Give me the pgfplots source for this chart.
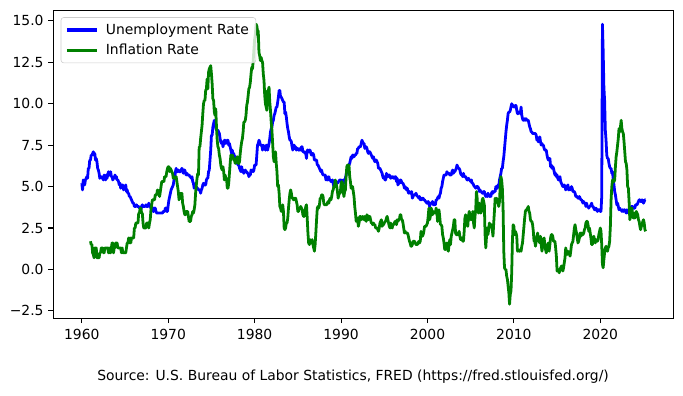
\documentclass[border=0pt]{standalone}
\usepackage{pgfplots}
\pgfplotsset{compat=1.18}
\usepackage{fontspec}
\setmainfont{DejaVu Sans}
\definecolor{mplgreen}{RGB}{0,128,0}
\definecolor{mplblue}{RGB}{0,0,255}
\begin{document}
\begin{tikzpicture}
\path[use as bounding box] (0pt,0pt) rectangle (491.76pt,284.4pt);
\begin{axis}[
  at={(38.38pt,55.22pt)}, anchor=south west,
  width=446.7pt, height=221.9pt, scale only axis,
  xmin=1956.7, xmax=2028.5, ymin=-2.95, ymax=15.65,
  xtick={1960,1970,1980,1990,2000,2010,2020},
  xticklabels={1960,1970,1980,1990,2000,2010,2020},
  ytick={-2.5,0,2.5,5,7.5,10,12.5,15},
  yticklabels={−2.5,0.0,2.5,5.0,7.5,10.0,12.5,15.0},
  tick align=outside, tick pos=left, major tick length=3.5pt,
  tick style={black, line width=0.8pt},
  axis line style={line width=0.8pt},
  ticklabel style={font=\fontsize{10}{12}\selectfont},
  xticklabel style={yshift=-1pt},
  legend cell align=left,
  legend image code/.code={\draw[#1,line width=2.3pt] (0pt,0pt) -- (22pt,0pt);},
  legend style={at={(0.012,0.977)}, anchor=north west, draw=black!20, rounded corners=2pt,
    fill=white, fill opacity=0.8, text opacity=1, font=\fontsize{10}{12}\selectfont,
    inner xsep=3pt, inner ysep=2.5pt, row sep=1.5pt, column sep=3pt},
]
\addplot[mplblue, line width=2pt, line join=round] table[row sep=\\, header=false, x expr=1960+\coordindex/12, y index=0] {
5.2\\4.8\\5.4\\5.2\\5.1\\5.4\\5.5\\5.6\\5.5\\6.1\\6.1\\6.6\\
6.6\\6.9\\6.9\\7.0\\7.1\\6.9\\7.0\\6.6\\6.7\\6.5\\6.1\\6.0\\
5.8\\5.5\\5.6\\5.6\\5.5\\5.5\\5.4\\5.7\\5.6\\5.4\\5.7\\5.5\\
5.7\\5.9\\5.7\\5.7\\5.9\\5.6\\5.6\\5.4\\5.5\\5.5\\5.7\\5.5\\
5.6\\5.4\\5.4\\5.3\\5.1\\5.2\\4.9\\5.0\\5.1\\5.1\\4.8\\5.0\\
4.9\\5.1\\4.7\\4.8\\4.6\\4.6\\4.4\\4.4\\4.3\\4.2\\4.1\\4.0\\
4.0\\3.8\\3.8\\3.8\\3.9\\3.8\\3.8\\3.8\\3.7\\3.7\\3.6\\3.8\\
3.9\\3.8\\3.8\\3.8\\3.8\\3.9\\3.8\\3.8\\3.8\\4.0\\3.9\\3.8\\
3.7\\3.8\\3.7\\3.5\\3.5\\3.7\\3.7\\3.5\\3.4\\3.4\\3.4\\3.4\\
3.4\\3.4\\3.4\\3.4\\3.4\\3.5\\3.5\\3.5\\3.7\\3.7\\3.5\\3.5\\
3.9\\4.2\\4.4\\4.6\\4.8\\4.9\\5.0\\5.1\\5.4\\5.5\\5.9\\6.1\\
5.9\\5.9\\6.0\\5.9\\5.9\\5.9\\6.0\\6.1\\6.0\\5.8\\6.0\\6.0\\
5.8\\5.7\\5.8\\5.7\\5.7\\5.7\\5.6\\5.6\\5.5\\5.6\\5.3\\5.2\\
4.9\\5.0\\4.9\\5.0\\4.9\\4.9\\4.8\\4.8\\4.8\\4.6\\4.8\\4.9\\
5.1\\5.2\\5.1\\5.1\\5.1\\5.4\\5.5\\5.5\\5.9\\6.0\\6.6\\7.2\\
8.1\\8.1\\8.6\\8.8\\9.0\\8.8\\8.6\\8.4\\8.4\\8.4\\8.3\\8.2\\
7.9\\7.7\\7.6\\7.7\\7.4\\7.6\\7.8\\7.8\\7.6\\7.7\\7.8\\7.8\\
7.5\\7.6\\7.4\\7.2\\7.0\\7.2\\6.9\\7.0\\6.8\\6.8\\6.8\\6.4\\
6.4\\6.3\\6.3\\6.1\\6.0\\5.9\\6.2\\5.9\\6.0\\5.8\\5.9\\6.0\\
5.9\\5.9\\5.8\\5.8\\5.6\\5.7\\5.7\\6.0\\5.9\\6.0\\5.9\\6.0\\
6.3\\6.3\\6.3\\6.9\\7.5\\7.6\\7.8\\7.7\\7.5\\7.5\\7.5\\7.2\\
7.5\\7.4\\7.4\\7.2\\7.5\\7.5\\7.2\\7.4\\7.6\\7.9\\8.3\\8.5\\
8.6\\8.9\\9.0\\9.3\\9.4\\9.6\\9.8\\9.8\\10.1\\10.4\\10.8\\10.8\\
10.4\\10.4\\10.3\\10.2\\10.1\\10.1\\9.4\\9.5\\9.2\\8.8\\8.5\\8.3\\
8.0\\7.8\\7.8\\7.7\\7.4\\7.2\\7.5\\7.5\\7.3\\7.4\\7.2\\7.3\\
7.3\\7.2\\7.2\\7.3\\7.2\\7.4\\7.4\\7.1\\7.1\\7.1\\7.0\\7.0\\
6.7\\7.2\\7.2\\7.1\\7.2\\7.2\\7.0\\6.9\\7.0\\7.0\\6.9\\6.6\\
6.6\\6.6\\6.6\\6.3\\6.3\\6.2\\6.1\\6.0\\5.9\\6.0\\5.8\\5.7\\
5.7\\5.7\\5.7\\5.4\\5.6\\5.4\\5.4\\5.6\\5.4\\5.4\\5.3\\5.3\\
5.4\\5.2\\5.0\\5.2\\5.2\\5.3\\5.2\\5.2\\5.3\\5.3\\5.4\\5.4\\
5.4\\5.3\\5.2\\5.4\\5.4\\5.2\\5.5\\5.7\\5.9\\5.9\\6.2\\6.3\\
6.4\\6.6\\6.8\\6.7\\6.9\\6.9\\6.8\\6.9\\6.9\\7.0\\7.0\\7.3\\
7.3\\7.4\\7.4\\7.4\\7.6\\7.8\\7.7\\7.6\\7.6\\7.3\\7.4\\7.4\\
7.3\\7.1\\7.0\\7.1\\7.1\\7.0\\6.9\\6.8\\6.7\\6.8\\6.6\\6.5\\
6.6\\6.6\\6.5\\6.4\\6.1\\6.1\\6.1\\6.0\\5.9\\5.8\\5.6\\5.5\\
5.6\\5.4\\5.4\\5.8\\5.6\\5.6\\5.7\\5.7\\5.6\\5.5\\5.6\\5.6\\
5.6\\5.5\\5.5\\5.6\\5.6\\5.3\\5.5\\5.1\\5.2\\5.2\\5.4\\5.4\\
5.3\\5.2\\5.2\\5.1\\4.9\\5.0\\4.9\\4.8\\4.9\\4.7\\4.6\\4.7\\
4.6\\4.6\\4.7\\4.3\\4.4\\4.5\\4.5\\4.5\\4.6\\4.5\\4.4\\4.4\\
4.3\\4.4\\4.2\\4.3\\4.2\\4.3\\4.3\\4.2\\4.2\\4.1\\4.1\\4.0\\
4.0\\4.1\\4.0\\3.8\\4.0\\4.0\\4.0\\4.1\\3.9\\3.9\\3.9\\3.9\\
4.2\\4.2\\4.3\\4.4\\4.3\\4.5\\4.6\\4.9\\5.0\\5.3\\5.5\\5.7\\
5.7\\5.7\\5.7\\5.9\\5.8\\5.8\\5.8\\5.7\\5.7\\5.7\\5.9\\6.0\\
5.8\\5.9\\5.9\\6.0\\6.1\\6.3\\6.2\\6.1\\6.1\\6.0\\5.8\\5.7\\
5.7\\5.6\\5.8\\5.6\\5.6\\5.6\\5.5\\5.4\\5.4\\5.5\\5.4\\5.4\\
5.3\\5.4\\5.2\\5.2\\5.1\\5.0\\5.0\\4.9\\5.0\\5.0\\5.0\\4.9\\
4.7\\4.8\\4.7\\4.7\\4.6\\4.6\\4.7\\4.7\\4.5\\4.4\\4.5\\4.4\\
4.6\\4.5\\4.4\\4.5\\4.4\\4.6\\4.7\\4.6\\4.7\\4.7\\4.7\\5.0\\
5.0\\4.9\\5.1\\5.0\\5.4\\5.6\\5.8\\6.1\\6.1\\6.5\\6.8\\7.3\\
7.8\\8.3\\8.7\\9.0\\9.4\\9.5\\9.5\\9.6\\9.8\\10.0\\9.9\\9.9\\
9.8\\9.8\\9.9\\9.9\\9.6\\9.4\\9.4\\9.5\\9.5\\9.4\\9.8\\9.3\\
9.1\\9.0\\9.0\\9.1\\9.0\\9.1\\9.0\\9.0\\9.0\\8.8\\8.6\\8.5\\
8.3\\8.3\\8.2\\8.2\\8.2\\8.2\\8.2\\8.1\\7.8\\7.8\\7.7\\7.9\\
8.0\\7.7\\7.5\\7.6\\7.5\\7.5\\7.3\\7.2\\7.2\\7.2\\6.9\\6.7\\
6.6\\6.7\\6.7\\6.2\\6.3\\6.1\\6.2\\6.1\\5.9\\5.7\\5.8\\5.6\\
5.7\\5.5\\5.4\\5.4\\5.6\\5.3\\5.2\\5.1\\5.0\\5.0\\5.1\\5.0\\
4.8\\4.9\\5.0\\5.1\\4.8\\4.9\\4.8\\4.9\\5.0\\4.9\\4.7\\4.7\\
4.7\\4.6\\4.4\\4.4\\4.4\\4.3\\4.3\\4.4\\4.3\\4.2\\4.2\\4.1\\
4.0\\4.1\\4.0\\4.0\\3.8\\4.0\\3.8\\3.8\\3.7\\3.8\\3.8\\3.9\\
4.0\\3.8\\3.8\\3.7\\3.6\\3.6\\3.7\\3.6\\3.5\\3.6\\3.6\\3.6\\
3.5\\3.5\\4.4\\14.8\\13.2\\11.0\\10.2\\8.4\\7.8\\6.9\\6.7\\6.7\\
6.4\\6.2\\6.1\\6.1\\5.8\\5.9\\5.4\\5.1\\4.7\\4.5\\4.2\\3.9\\
4.0\\3.8\\3.6\\3.7\\3.6\\3.6\\3.5\\3.6\\3.5\\3.6\\3.6\\3.5\\
3.4\\3.6\\3.5\\3.4\\3.6\\3.6\\3.5\\3.8\\3.8\\3.8\\3.7\\3.7\\
3.7\\3.9\\3.9\\3.9\\4.0\\4.1\\4.2\\4.2\\4.1\\4.1\\4.2\\4.1\\
4.0\\4.1\\4.2\\4.2\\
};
\addlegendentry{Unemployment Rate}
\addplot[mplgreen, line width=2pt, line join=round] table[row sep=\\, header=false, x expr=1961+\coordindex/12, y index=0] {
1.7\\1.5\\1.5\\1.0\\0.9\\0.7\\1.3\\1.3\\1.3\\0.7\\0.7\\0.7\\
0.7\\1.0\\1.0\\1.3\\1.3\\1.3\\1.0\\1.0\\1.3\\1.3\\1.3\\1.3\\
1.3\\1.0\\1.3\\1.0\\1.0\\1.3\\1.6\\1.6\\1.0\\1.3\\1.3\\1.6\\
1.6\\1.6\\1.3\\1.3\\1.3\\1.3\\1.3\\1.0\\1.3\\1.0\\1.0\\1.0\\
1.0\\1.0\\1.3\\1.6\\1.6\\1.9\\1.6\\1.9\\1.6\\1.9\\1.9\\1.9\\
1.9\\2.5\\2.5\\2.8\\2.8\\2.8\\2.8\\3.4\\3.4\\3.7\\3.7\\3.4\\
3.4\\2.8\\2.5\\2.5\\2.5\\2.5\\2.8\\2.8\\2.8\\2.5\\2.8\\3.0\\
3.6\\3.9\\4.2\\4.2\\4.2\\4.2\\4.5\\4.5\\4.5\\4.8\\4.7\\4.7\\
4.4\\4.7\\5.0\\5.3\\5.3\\5.3\\5.3\\5.6\\5.6\\5.6\\5.9\\6.1\\
6.2\\6.2\\5.9\\6.1\\6.0\\5.9\\5.8\\5.5\\5.6\\5.5\\5.5\\5.6\\
5.3\\5.0\\4.7\\4.2\\4.4\\4.6\\4.4\\4.6\\4.0\\3.8\\3.5\\3.3\\
3.3\\3.5\\3.5\\3.5\\3.2\\2.9\\2.9\\2.9\\3.2\\3.3\\3.5\\3.4\\
3.6\\3.9\\4.6\\5.1\\5.5\\5.8\\5.7\\7.4\\7.4\\7.9\\8.3\\8.7\\
9.4\\10.0\\10.2\\10.2\\10.8\\10.9\\11.5\\10.9\\11.9\\12.1\\12.2\\12.3\\
11.8\\11.2\\10.3\\10.2\\9.5\\9.3\\9.7\\8.6\\7.8\\7.4\\7.3\\6.9\\
6.7\\6.3\\6.1\\6.0\\6.2\\5.9\\5.4\\5.7\\5.5\\5.5\\4.9\\4.9\\
5.2\\5.8\\6.4\\6.9\\6.7\\6.9\\6.8\\6.6\\6.6\\6.4\\6.7\\6.7\\
6.8\\6.4\\6.4\\6.5\\7.0\\7.4\\7.7\\7.9\\8.3\\8.9\\8.9\\9.0\\
9.3\\9.9\\10.1\\10.5\\10.9\\11.0\\11.3\\11.8\\12.2\\12.1\\12.6\\13.3\\
13.9\\14.2\\14.8\\14.7\\14.4\\14.4\\13.1\\12.9\\12.6\\12.8\\12.6\\12.5\\
11.8\\11.4\\10.5\\10.0\\9.8\\9.6\\10.8\\10.8\\11.0\\10.1\\9.6\\8.9\\
8.4\\7.6\\6.8\\6.5\\6.7\\7.1\\6.4\\5.9\\5.0\\5.1\\4.6\\3.8\\
3.7\\3.5\\3.6\\3.9\\3.5\\2.5\\2.4\\2.5\\2.8\\2.8\\3.1\\3.7\\
4.2\\4.6\\4.8\\4.6\\4.3\\4.3\\4.2\\4.3\\4.2\\4.3\\4.1\\3.9\\
3.5\\3.5\\3.7\\3.7\\3.8\\3.7\\3.6\\3.3\\3.2\\3.2\\3.5\\3.8\\
3.9\\3.1\\2.2\\1.6\\1.5\\1.8\\1.6\\1.6\\1.8\\1.5\\1.3\\1.1\\
1.5\\2.2\\3.0\\3.7\\3.8\\3.7\\3.9\\4.3\\4.3\\4.5\\4.5\\4.4\\
4.0\\3.9\\3.9\\3.9\\3.9\\4.0\\4.1\\4.0\\4.2\\4.3\\4.2\\4.4\\
4.7\\4.8\\5.0\\5.1\\5.4\\5.2\\5.0\\4.7\\4.3\\4.5\\4.6\\4.6\\
5.2\\5.3\\5.2\\4.7\\4.4\\4.7\\4.8\\5.6\\6.2\\6.3\\6.3\\6.3\\
5.6\\5.3\\4.9\\4.9\\5.0\\4.7\\4.4\\3.8\\3.4\\2.9\\3.0\\3.1\\
2.6\\2.8\\3.2\\3.2\\3.0\\3.1\\3.2\\3.1\\3.0\\3.2\\3.0\\2.9\\
3.3\\3.2\\3.0\\3.2\\3.2\\3.0\\2.8\\2.8\\2.7\\2.8\\2.7\\2.7\\
2.5\\2.5\\2.5\\2.4\\2.3\\2.5\\2.8\\2.9\\3.0\\2.6\\2.7\\2.7\\
2.8\\2.9\\2.9\\3.1\\3.2\\3.0\\2.8\\2.6\\2.5\\2.8\\2.6\\2.5\\
2.7\\2.7\\2.8\\2.9\\2.9\\2.7\\3.0\\2.9\\3.0\\3.0\\3.3\\3.3\\
3.0\\3.0\\2.8\\2.5\\2.2\\2.3\\2.2\\2.2\\2.2\\2.1\\1.9\\1.7\\
1.6\\1.4\\1.4\\1.5\\1.7\\1.7\\1.7\\1.6\\1.5\\1.5\\1.5\\1.6\\
1.7\\1.6\\1.7\\2.3\\2.1\\2.0\\2.1\\2.3\\2.6\\2.6\\2.6\\2.7\\
2.8\\3.2\\3.7\\3.0\\3.2\\3.7\\3.6\\3.3\\3.5\\3.4\\3.4\\3.4\\
3.7\\3.5\\2.9\\3.2\\3.6\\3.2\\2.7\\2.7\\2.6\\2.1\\1.9\\1.6\\
1.2\\1.2\\1.5\\1.6\\1.2\\1.1\\1.5\\1.8\\1.5\\2.0\\2.2\\2.4\\
2.6\\3.0\\3.0\\2.2\\2.1\\2.1\\2.1\\2.2\\2.3\\2.0\\1.8\\1.9\\
1.9\\1.7\\1.7\\2.3\\3.1\\3.3\\3.0\\2.7\\2.6\\3.2\\3.5\\3.3\\
3.0\\3.0\\3.1\\3.5\\2.8\\2.5\\3.2\\3.6\\4.7\\4.3\\3.5\\3.4\\
4.0\\3.6\\3.4\\3.5\\4.2\\4.3\\4.1\\3.9\\2.1\\1.3\\2.0\\2.5\\
2.1\\2.4\\2.8\\2.6\\2.7\\2.7\\2.4\\2.0\\2.8\\3.5\\4.3\\4.1\\
4.3\\4.1\\4.0\\3.8\\4.1\\5.0\\5.6\\5.4\\4.9\\3.7\\1.1\\0.1\\
0.0\\0.0\\-0.4\\-0.6\\-1.0\\-1.4\\-2.1\\-1.5\\-1.3\\-0.2\\1.8\\2.7\\
2.6\\2.1\\2.3\\2.2\\2.0\\1.1\\1.2\\1.1\\1.1\\1.2\\1.1\\1.4\\
1.6\\2.1\\2.6\\3.1\\3.5\\3.6\\3.6\\3.7\\3.8\\3.5\\3.4\\3.0\\
2.9\\2.9\\2.7\\2.3\\1.7\\1.7\\1.4\\1.7\\2.0\\2.2\\1.8\\1.7\\
1.6\\2.0\\1.5\\1.1\\1.4\\1.8\\1.9\\1.5\\1.2\\1.0\\1.2\\1.5\\
1.6\\1.1\\1.5\\1.9\\2.1\\2.1\\2.0\\1.7\\1.7\\1.7\\1.3\\0.8\\
-0.1\\0.0\\-0.1\\-0.2\\0.0\\0.1\\0.2\\0.2\\-0.1\\0.1\\0.4\\0.7\\
1.3\\1.0\\0.9\\1.1\\1.0\\1.0\\0.8\\1.1\\1.5\\1.6\\1.7\\2.1\\
2.5\\2.7\\2.4\\2.2\\1.9\\1.6\\1.7\\1.9\\2.2\\2.0\\2.2\\2.1\\
2.1\\2.2\\2.4\\2.5\\2.8\\2.9\\2.9\\2.7\\2.3\\2.5\\2.2\\1.9\\
1.5\\1.5\\1.9\\2.0\\1.8\\1.6\\1.8\\1.7\\1.7\\1.8\\2.1\\2.3\\
2.5\\2.3\\1.5\\0.3\\0.1\\0.6\\1.0\\1.3\\1.4\\1.2\\1.1\\1.3\\
1.4\\1.7\\2.6\\4.2\\5.0\\5.4\\5.4\\5.3\\5.4\\6.2\\6.8\\7.1\\
7.5\\7.9\\8.5\\8.3\\8.6\\9.0\\8.5\\8.3\\8.2\\7.7\\7.1\\6.5\\
6.4\\6.0\\5.0\\4.9\\4.1\\3.0\\3.2\\3.7\\3.7\\3.2\\3.1\\3.4\\
3.1\\3.2\\3.5\\3.4\\3.3\\3.0\\2.9\\2.6\\2.4\\2.6\\2.7\\2.9\\
3.0\\2.8\\2.4\\2.3\\
};
\addlegendentry{Inflation Rate}
\end{axis}
\node[font=\fontsize{10}{12}\selectfont] at (254.2pt,12.9pt) {Source: U.S. Bureau of Labor Statistics, FRED (https://fred.stlouisfed.org/)};
\end{tikzpicture}
\end{document}
